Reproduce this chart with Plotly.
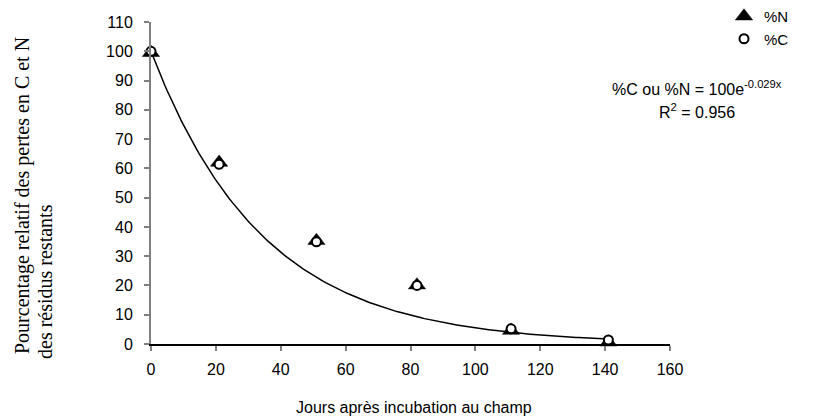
import numpy as np
import plotly.graph_objects as go

# Data
days = [0, 21, 51, 82, 111, 141]
pct_N = [99.5, 62.0, 35.3, 20.1, 4.6, 0.6]
pct_C = [100.0, 61.4, 34.9, 20.0, 5.2, 1.4]

# Trendline parameters shown on the chart: %C ou %N = 100e^(-0.029x)
fit_a = 100.0
fit_k = 0.029
fit_x = np.linspace(0, 141, 200)
fit_y = fit_a * np.exp(-fit_k * fit_x)

x_ticks = [0, 20, 40, 60, 80, 100, 120, 140, 160]
y_ticks = [0, 10, 20, 30, 40, 50, 60, 70, 80, 90, 100, 110]

FONT = "Liberation Sans, Arial, sans-serif"
SERIF = "Liberation Serif, Times New Roman, serif"

W, H = 814, 419
L, B = 151, 75
PW, PH = W - L, H - B          # paper area (no right/top margin)
X_END, Y_TOP = 670, 22          # plot area right edge / top edge in pixels


def px(xp):
    return (xp - L) / PW


def py(yp):
    return (H - B - yp) / PH


fig = go.Figure()
fig.add_trace(go.Scatter(x=fit_x, y=fit_y, mode="lines",
                         line=dict(color="black", width=1.5),
                         showlegend=False, hoverinfo="skip", cliponaxis=False))
fig.add_trace(go.Scatter(x=days, y=pct_N, mode="markers", name="%N", cliponaxis=False,
                         marker=dict(symbol="triangle-up", size=15, color="black",
                                     line=dict(color="black", width=0.5))))
fig.add_trace(go.Scatter(x=days, y=pct_C, mode="markers", name="%C", cliponaxis=False,
                         marker=dict(symbol="circle", size=9, color="white",
                                     line=dict(color="black", width=2))))

fig.update_layout(
    width=W, height=H,
    margin=dict(l=L, r=0, t=0, b=B, autoexpand=False),
    paper_bgcolor="white", plot_bgcolor="white",
    font=dict(family=FONT, size=16, color="black"),
    legend=dict(x=px(724), y=1, xanchor="left", yanchor="top",
                font=dict(family=FONT, size=15, color="black"),
                bgcolor="rgba(0,0,0,0)", itemwidth=30, tracegroupgap=0),
    showlegend=True,
)

fig.update_xaxes(domain=[0, px(X_END)], range=[0, 160], tickvals=x_ticks,
                 ticktext=[str(v) for v in x_ticks],
                 showgrid=False, zeroline=False, showline=True, linecolor="black",
                 linewidth=1.5, ticks="outside", ticklen=5, tickcolor="#808080",
                 tickwidth=1.5, ticklabelstandoff=5,
                 tickfont=dict(family=FONT, size=16, color="black"))
fig.update_yaxes(domain=[0, py(Y_TOP)], range=[0, 110], tickvals=y_ticks,
                 ticktext=[str(v) for v in y_ticks],
                 showgrid=False, zeroline=False, showline=True, linecolor="#808080",
                 linewidth=2, ticks="outside", ticklen=5, tickcolor="#808080",
                 tickwidth=1.5, ticklabelstandoff=8,
                 tickfont=dict(family=FONT, size=16, color="black"))

fig.add_annotation(text="%C ou %N = 100e<sup>-0.029x</sup>", xref="paper", yref="paper",
                   x=px(697), y=py(88), showarrow=False,
                   xanchor="center", yanchor="middle",
                   font=dict(family=FONT, size=16, color="black"))
fig.add_annotation(text="R<sup>2</sup> = 0.956", xref="paper", yref="paper",
                   x=px(697), y=py(111), showarrow=False,
                   xanchor="center", yanchor="middle",
                   font=dict(family=FONT, size=16, color="black"))
fig.add_annotation(text="Jours après incubation au champ", xref="paper", yref="paper",
                   x=px(414), y=py(407), showarrow=False,
                   xanchor="center", yanchor="middle",
                   font=dict(family=FONT, size=16, color="black"))
fig.add_annotation(text="Pourcentage relatif des pertes en C et N", xref="paper", yref="paper",
                   x=px(22), y=py(196), showarrow=False, textangle=-90,
                   xanchor="center", yanchor="middle",
                   font=dict(family=SERIF, size=20, color="black"))
fig.add_annotation(text="des résidus restants", xref="paper", yref="paper",
                   x=px(45), y=py(282), showarrow=False, textangle=-90,
                   xanchor="center", yanchor="middle",
                   font=dict(family=SERIF, size=20, color="black"))

fig.write_html("out.html")
